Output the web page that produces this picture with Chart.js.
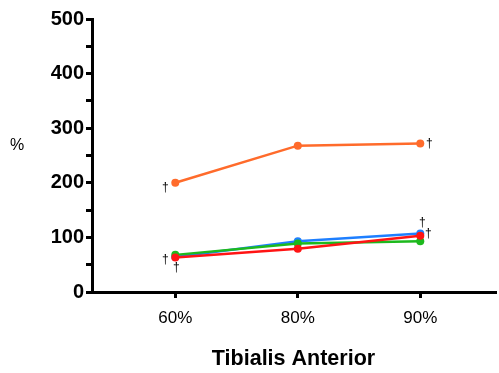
<!DOCTYPE html>
<html>
<head>
<meta charset="utf-8">
<script src="https://cdn.jsdelivr.net/npm/chart.js@4/dist/chart.umd.min.js"></script>
<style>
html,body{margin:0;padding:0;background:#fff;}
#c{display:block;}
</style>
</head>
<body>
<canvas id="c" width="499" height="373"></canvas>
<script>
// ---- data ----
const categories = ["60%", "80%", "90%"];
const categoryPositions = [1, 2, 3];
const seriesOrange = [200, 268, 272];
const seriesBlue = [64, 93, 107];
const seriesGreen = [68, 89, 93];
const seriesRed = [63, 79, 103];
const yTickValues = [0, 100, 200, 300, 400, 500];
// dagger marks: [series key, category index]
const daggerMarks = [["orange",0],["orange",2],["blue",0],["blue",2],["red",0],["red",2]];

// ---- styles ----
const colors = {orange:"#FF6B2B", blue:"#1E7FFF", green:"#1DB91D", red:"#FF1414"};
const drawOrder = {orange:3, blue:2, green:1, red:0};
const daggerOffsets = {
  "orange-0":[-10,5], "orange-2":[9,0], "blue-0":[-10,3], "blue-2":[2,-11], "red-0":[1,10], "red-2":[8,-2]
};
const FONT = "'Liberation Sans', Arial, Helvetica, sans-serif";

function mk(key, vals){
  return {
    label: key,
    order: drawOrder[key],
    data: vals.map((v,i)=>({x: categoryPositions[i], y: v})),
    borderColor: colors[key], backgroundColor: colors[key],
    pointBackgroundColor: colors[key], pointBorderColor: colors[key],
    borderWidth: 2.5, pointRadius: 4, pointBorderWidth: 0, tension: 0
  };
}
const keys = ["orange","blue","green","red"];
const datasets = [mk("orange",seriesOrange), mk("blue",seriesBlue), mk("green",seriesGreen), mk("red",seriesRed)];

const extras = {
  id: "extras",
  afterDatasetsDraw(chart){
    const ctx = chart.ctx;
    ctx.save();
    ctx.fillStyle = "#000";
    ctx.font = "12px " + FONT;
    ctx.textAlign = "center"; ctx.textBaseline = "middle";
    daggerMarks.forEach(([k,i])=>{
      const di = keys.indexOf(k);
      const el = chart.getDatasetMeta(di).data[i];
      const off = daggerOffsets[k+"-"+i];
      ctx.fillText("†", el.x + off[0], el.y + off[1]);
    });
    ctx.font = "16px " + FONT;
    ctx.fillText("%", 17, 146);
    ctx.restore();
  }
};

new Chart(document.getElementById("c"), {
  type: "line",
  data: { datasets },
  options: {
    responsive: false, animation: false,
    layout: { padding: { top: 19, right: 0, bottom: 1, left: 0 } },
    plugins: { legend: {display:false}, tooltip: {enabled:false} },
    scales: {
      x: {
        type: "linear", min: 0.32, max: 3.61,
        afterBuildTicks(s){ s.ticks = categoryPositions.map(v=>({value:v})); },
        ticks: { callback: (v)=> categories[categoryPositions.indexOf(v)] ?? "", color:"#000",
                 font:{family:FONT, size:17}, padding: 10, maxRotation:0, autoSkip:false },
        grid: { drawOnChartArea:false, drawTicks:true, tickLength:6, lineWidth:3, color:"#000" },
        border: { display:true, width:3, color:"#000" },
        title: { display:true, text:"Tibialis Anterior", color:"#000",
                 font:{family:FONT, size:21.5, weight:"bold"}, padding:{top:10, bottom:0} },
        afterFit(s){ s.height = 80; }
      },
      y: {
        min: 0, max: 500,
        afterBuildTicks(s){
          const t=[]; for(let v=0; v<=500; v+=50) t.push({value:v}); s.ticks=t;
        },
        ticks: { callback: (v)=> yTickValues.includes(v) ? String(v) : "", color:"#000",
                 font:{family:FONT, size:20, weight:"bold"}, padding: 2, autoSkip:false },
        grid: { drawOnChartArea:false, drawTicks:true, tickLength:6, lineWidth:3, color:"#000" },
        border: { display:true, width:3, color:"#000" },
        afterFit(s){ s.width = 92; }
      }
    }
  },
  plugins: [extras]
});
</script>
</body>
</html>
